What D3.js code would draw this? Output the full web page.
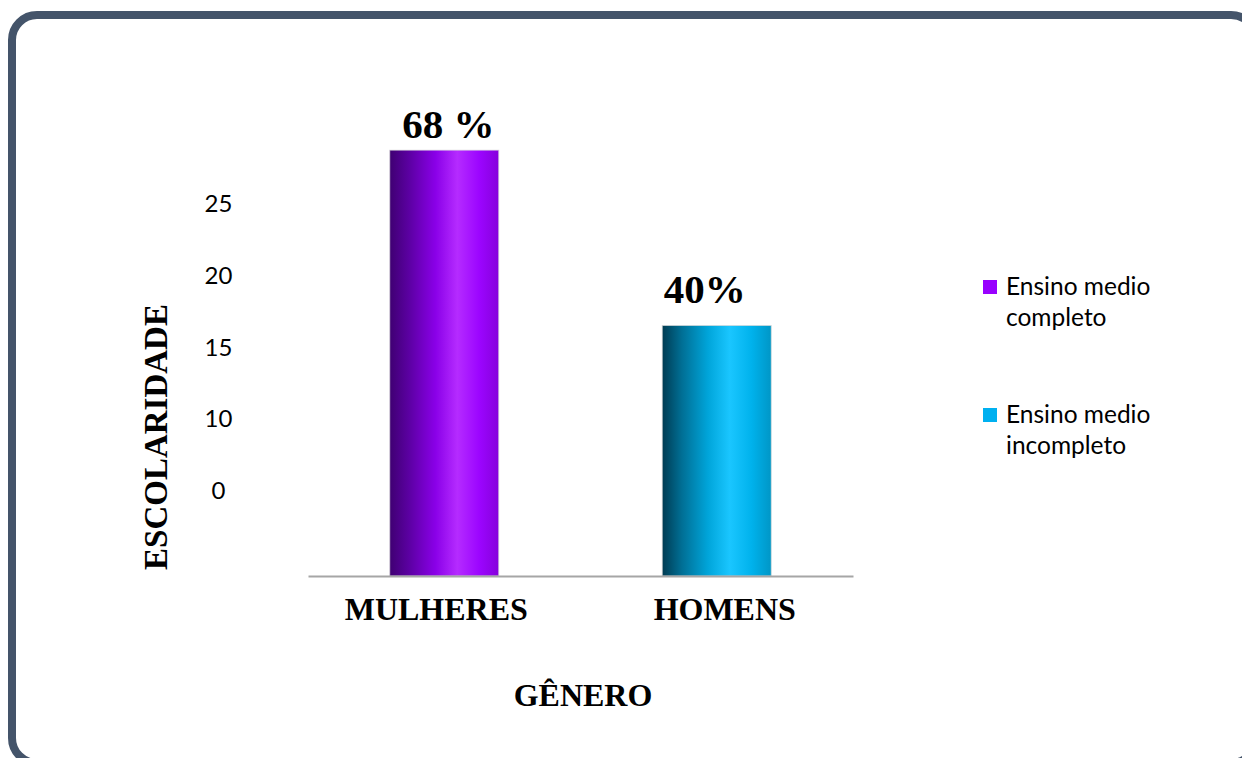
<!DOCTYPE html>
<html>
<head>
<meta charset="utf-8">
<script src="https://cdn.jsdelivr.net/npm/d3@7"></script>
<style>
  html, body { margin: 0; padding: 0; background: #ffffff; overflow: hidden; }
  svg { display: block; }
</style>
</head>
<body>
<svg id="chart" width="1242" height="758"></svg>
<script>
// ---- data ----
const categories = ["MULHERES", "HOMENS"];
const seriesNames = ["Ensino medio completo", "Ensino medio incompleto"];
const values = [68, 40];
const valueLabels = ["68 %", "40%"];
const yTickLabels = ["25", "20", "15", "10", "0"];
const legendLines = [["Ensino medio", "completo"], ["Ensino medio", "incompleto"]];
const xTitle = "GÊNERO";
const yTitle = "ESCOLARIDADE";

// ---- styles ----
const seriesColors = ["#9900ff", "#00b0f0"];
const gradStops = [
  [["0%", "#3f0072"], ["18%", "#5c00a3"], ["42%", "#8a00e8"], ["62%", "#b52bff"], ["82%", "#9c05ff"], ["100%", "#8600dc"]],
  [["0%", "#003b52"], ["18%", "#006f95"], ["42%", "#00a5da"], ["62%", "#1ac6ff"], ["82%", "#00b2ec"], ["100%", "#0096c6"]]
];

const svg = d3.select("#chart");

// frame (extends past the right and bottom edges, as in the original)
svg.append("rect")
  .attr("x", 12).attr("y", 15)
  .attr("width", 1244).attr("height", 748)
  .attr("rx", 25).attr("ry", 25)
  .attr("fill", "#ffffff")
  .attr("stroke", "#44546a")
  .attr("stroke-width", 8);

// gradients
const defs = svg.append("defs");
gradStops.forEach((stops, i) => {
  const g = defs.append("linearGradient")
    .attr("id", "grad" + i)
    .attr("x1", "0").attr("x2", "1").attr("y1", "0").attr("y2", "0");
  stops.forEach(s => g.append("stop").attr("offset", s[0]).attr("stop-color", s[1]));
});

// scales
const x = d3.scaleBand()
  .domain(categories)
  .range([308, 853])
  .paddingInner(0.6)
  .paddingOuter(0.3);

const y = d3.scaleLinear()
  .domain([0, 80])
  .range([576, 75]);

// y tick labels (as drawn in the original, evenly spaced text)
const yLab = d3.scalePoint().domain(yTickLabels).range([203.5, 490.5]);

svg.append("g")
  .selectAll("text")
  .data(yTickLabels)
  .join("text")
  .attr("x", 218.5)
  .attr("y", d => yLab(d))
  .attr("dy", "0.36em")
  .attr("text-anchor", "middle")
  .attr("font-family", "Lato, 'Open Sans', sans-serif")
  .attr("font-size", 24)
  .attr("fill", "#000")
  .text(d => d);

// bars
svg.append("g")
  .selectAll("rect")
  .data(categories)
  .join("rect")
  .attr("x", d => x(d))
  .attr("y", (d, i) => y(values[i]))
  .attr("width", x.bandwidth())
  .attr("height", (d, i) => y(0) - y(values[i]))
  .attr("fill", (d, i) => `url(#grad${i})`)
  .attr("stroke", "#d9d9d9")
  .attr("stroke-opacity", 0.7)
  .attr("stroke-width", 1);

// x axis line
const xAxis = svg.append("g")
  .attr("transform", `translate(0,${y(0)})`)
  .call(d3.axisBottom(x).tickSize(0).tickSizeOuter(0).tickFormat(""));
xAxis.select(".domain").attr("stroke", "#a6a6a6").attr("stroke-width", 2);

// category labels
const catNudge = [-8, 8];
svg.append("g")
  .selectAll("text")
  .data(categories)
  .join("text")
  .attr("x", (d, i) => x(d) + x.bandwidth() / 2 + catNudge[i])
  .attr("y", 620)
  .attr("text-anchor", "middle")
  .attr("font-family", "'Liberation Serif', 'Times New Roman', serif")
  .attr("font-weight", "bold")
  .attr("font-size", 32)
  .attr("fill", "#000")
  .text(d => d);

// value labels
const labelNudge = [[4, -12], [-12, -22.5]];
svg.append("g")
  .selectAll("text")
  .data(valueLabels)
  .join("text")
  .attr("x", (d, i) => x(categories[i]) + x.bandwidth() / 2 + labelNudge[i][0])
  .attr("y", (d, i) => y(values[i]) + labelNudge[i][1])
  .attr("text-anchor", "middle")
  .attr("font-family", "'Liberation Serif', 'Times New Roman', serif")
  .attr("font-weight", "bold")
  .attr("font-size", 41)
  .attr("fill", "#000")
  .text(d => d);

// axis titles
svg.append("text")
  .attr("x", 583)
  .attr("y", 706)
  .attr("text-anchor", "middle")
  .attr("font-family", "'Liberation Serif', 'Times New Roman', serif")
  .attr("font-weight", "bold")
  .attr("font-size", 32)
  .attr("fill", "#000")
  .text(xTitle);

svg.append("text")
  .attr("transform", "translate(167,437) rotate(-90)")
  .attr("text-anchor", "middle")
  .attr("font-family", "'Liberation Serif', 'Times New Roman', serif")
  .attr("font-weight", "bold")
  .attr("font-size", 33)
  .attr("fill", "#000")
  .text(yTitle);

// legend
const legendY = d3.scalePoint().domain(seriesNames).range([287, 415]);
const lg = svg.append("g")
  .selectAll("g")
  .data(seriesNames)
  .join("g")
  .attr("transform", d => `translate(983,${legendY(d)})`);

lg.append("rect")
  .attr("x", 0).attr("y", -7)
  .attr("width", 14).attr("height", 14)
  .attr("fill", (d, i) => seriesColors[i]);

lg.append("text")
  .attr("x", 23)
  .attr("y", 8)
  .attr("font-family", "Lato, 'Open Sans', sans-serif")
  .attr("font-size", 24.5)
  .attr("fill", "#000")
  .selectAll("tspan")
  .data((d, i) => legendLines[i])
  .join("tspan")
  .attr("x", 23)
  .attr("dy", (t, j) => j === 0 ? 0 : 31)
  .text(t => t);
</script>
</body>
</html>
